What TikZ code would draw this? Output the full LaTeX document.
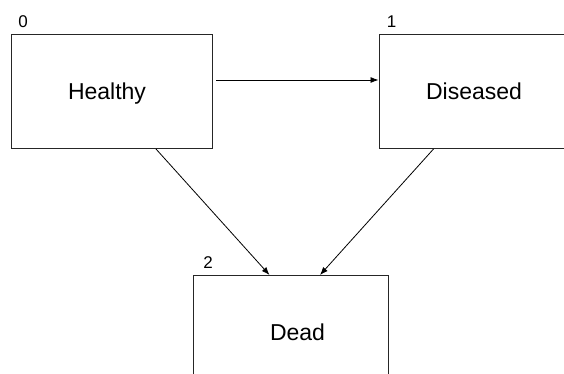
\documentclass[tikz,border=0pt]{standalone}
\usepackage{fontspec}
\setmainfont{Liberation Sans}
\usetikzlibrary{arrows.meta,calc}
\begin{document}
\begin{tikzpicture}[x=1pt,y=-1pt,
  box/.style={draw=black!85,line width=1pt,minimum width=#1,minimum height=113.5pt,inner sep=0pt,anchor=north west},
  lbl/.style={font=\fontsize{23}{25}\selectfont,inner sep=0pt,anchor=base},
  num/.style={font=\fontsize{17}{19}\selectfont,inner sep=0pt,anchor=base},
  arr/.style={draw=black,line width=0.8pt,-{Latex[length=8pt,width=6pt]}}]
\useasboundingbox (0,0) rectangle (564,374);
\clip (0,0) rectangle (564,374);
\node[box=201pt] (h) at (11,34.5) {};
\node[box=192pt] (d) at (378.5,34.5) {};
\node[box=195pt] (x) at (193,275) {};
\node[lbl] (ht) at (107,100) {Healthy};
\node[lbl] (dt) at (474,99.5) {Diseased};
\node[lbl] (xt) at (297.5,340) {Dead};
\node[num] (n0) at (23,27.8) {0};
\node[num] (n1) at (391.5,27.8) {1};
\node[num] (n2) at (208,268.3) {2};
\coordinate (a1) at ($(h.north east)+(3,45.5)$);
\coordinate (a2) at ($(d.north west)+(0,45.5)$);
\draw[arr] (a1) -- (a2);
\coordinate (b1) at ($(h.south west)+(145,0)$);
\coordinate (b2) at ($(x.north west)+(76.5,0)$);
\draw[arr] (b1) -- (b2);
\coordinate (c1) at ($(d.south west)+(55,0)$);
\coordinate (c2) at ($(x.north west)+(127,0)$);
\draw[arr] (c1) -- (c2);
\end{tikzpicture}
\end{document}
